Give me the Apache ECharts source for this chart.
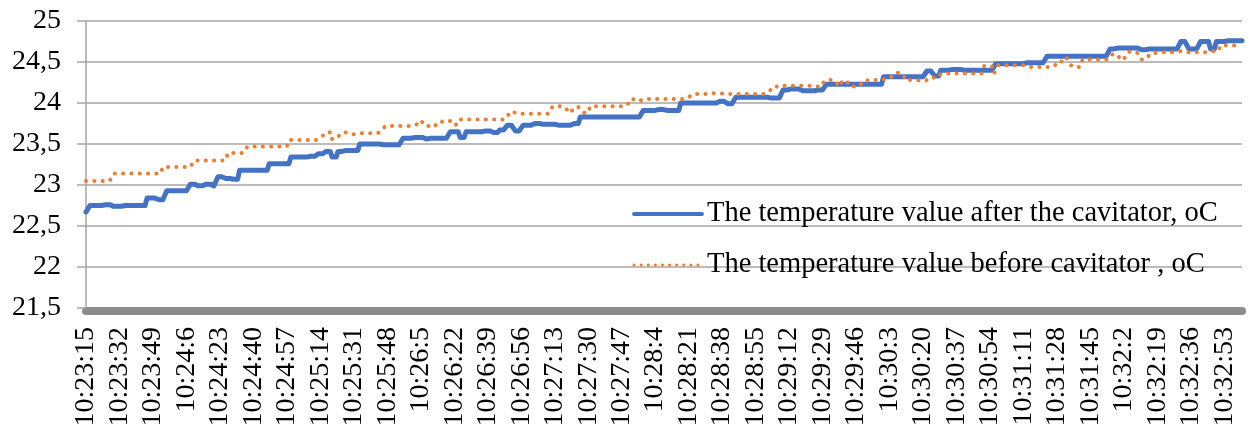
<!DOCTYPE html>
<html><head><meta charset="utf-8">
<script src="https://cdn.jsdelivr.net/npm/echarts@6/dist/echarts.min.js"></script>
<style>html,body{margin:0;padding:0;background:#fff}#c{width:1250px;height:430px}</style>
</head><body><div id="c"></div>
<script>
// time axis: one reading per second starting at 10:23:15
const startHour = 10, startMinute = 23, startSecond = 15;
const pointCount = 588;
const labelEvery = 17;

// "after the cavitator" readings, run-length: index where a level starts, and its value
const afterStart = [0,2,9,14,19,31,37,41,53,57,61,64,67,71,74,78,93,104,113,118,122,125,128,132,139,150,161,167,172,174,185,190,193,203,207,210,214,218,222,228,232,240,247,251,283,290,295,302,322,326,330,348,354,358,363,371,376,405,427,431,434,440,446,462,477,488,520,524,535,539,556,560,566,571,574,580];
const afterValue = [22.67,22.75,22.76,22.74,22.75,22.84,22.82,22.93,23.01,22.99,23.01,22.99,23.10,23.08,23.07,23.18,23.26,23.34,23.35,23.38,23.41,23.34,23.41,23.42,23.50,23.49,23.57,23.58,23.56,23.57,23.65,23.58,23.65,23.66,23.64,23.67,23.73,23.66,23.73,23.75,23.74,23.73,23.75,23.83,23.91,23.92,23.91,24.00,24.02,23.99,24.07,24.06,24.16,24.17,24.15,24.16,24.23,24.32,24.39,24.33,24.40,24.41,24.40,24.48,24.49,24.57,24.66,24.67,24.65,24.66,24.75,24.66,24.75,24.66,24.75,24.76];

// "before cavitator" readings, run-length
const beforeStart = [0,14,39,55,72,82,103,119,121,124,125,128,130,134,137,150,152,167,170,172,176,178,181,188,190,213,215,219,237,243,246,248,251,253,256,275,278,282,285,306,308,318,324,345,348,351,371,374,377,380,382,384,386,388,394,397,405,409,411,414,416,424,428,431,434,456,461,463,478,493,496,499,501,506,520,525,528,530,534,536,539,541,545,555,559,570,576];
const beforeValue = [23.05,23.14,23.22,23.30,23.39,23.47,23.55,23.57,23.62,23.65,23.56,23.59,23.64,23.62,23.63,23.66,23.72,23.74,23.79,23.72,23.70,23.74,23.78,23.73,23.80,23.82,23.89,23.87,23.96,23.92,23.88,23.95,23.91,23.88,23.96,23.99,24.05,24.03,24.05,24.07,24.11,24.12,24.11,24.12,24.17,24.21,24.20,24.25,24.28,24.26,24.20,24.26,24.28,24.20,24.24,24.28,24.29,24.32,24.37,24.35,24.28,24.27,24.29,24.34,24.36,24.45,24.36,24.46,24.44,24.48,24.55,24.49,24.44,24.53,24.59,24.53,24.59,24.63,24.61,24.53,24.56,24.61,24.62,24.63,24.62,24.63,24.70];

const seriesNames = ['The temperature value after the cavitator, oC', 'The temperature value before cavitator , oC'];
const yMin = 21.5, yMax = 25, yStep = 0.5;

function expand(starts, values, n) {
  const out = [];
  let k = 0;
  for (let i = 0; i < n; i++) {
    while (k + 1 < starts.length && starts[k + 1] <= i) k++;
    out.push(values[k]);
  }
  return out;
}
const categories = [];
for (let i = 0; i < pointCount; i++) {
  const t = startHour * 3600 + startMinute * 60 + startSecond + i;
  const h = Math.floor(t / 3600), m = Math.floor((t % 3600) / 60), s = t % 60;
  categories.push(h + ':' + (m < 10 ? '0' + m : m) + ':' + s);
}
const afterData = expand(afterStart, afterValue, pointCount);
const beforeData = expand(beforeStart, beforeValue, pointCount);

const FONT = "'Liberation Serif','Times New Roman',serif";
const chart = echarts.init(document.getElementById('c'), null, {renderer: 'canvas'});
chart.setOption({
  animation: false,
  backgroundColor: '#fff',
  grid: {left: 86, right: 8, top: 21, bottom: 122, containLabel: false},
  legend: {
    orient: 'vertical', left: 627, top: 194,
    itemWidth: 68, itemHeight: 14, itemGap: 21,
    itemStyle: {opacity: 0},
    textStyle: {fontFamily: FONT, fontSize: 28.5, color: '#000', lineHeight: 30},
    data: [
      {name: seriesNames[0], lineStyle: {color: '#4472C4', width: 4, type: 'solid'}},
      {name: seriesNames[1], lineStyle: {color: '#ED7D31', width: 3, type: [0.1, 7], cap: 'round'}}
    ]
  },
  xAxis: {
    type: 'category', data: categories, boundaryGap: false, offset: 3,
    axisLine: {show: true, lineStyle: {color: '#8c8c8c', width: 8}},
    axisTick: {show: false},
    axisLabel: {interval: labelEvery - 1, rotate: 90, margin: 16, fontFamily: FONT, fontSize: 28, color: '#000'},
    splitLine: {show: false}
  },
  yAxis: {
    type: 'value', min: yMin, max: yMax, interval: yStep,
    axisLine: {show: true, lineStyle: {color: '#a6a6a6', width: 1.5}},
    axisTick: {show: true, length: 9, lineStyle: {color: '#a6a6a6', width: 1.5}},
    axisLabel: {margin: 25, fontFamily: FONT, fontSize: 28, color: '#000',
      formatter: v => String(v).replace('.', ',')},
    splitLine: {show: true, lineStyle: {color: '#a6a6a6', width: 1.5}}
  },
  series: [
    {name: seriesNames[0], type: 'line', data: afterData, symbol: 'none', showSymbol: false,
     color: '#4472C4', lineStyle: {color: '#4472C4', width: 5, join: 'round', cap: 'round'}, z: 3},
    {name: seriesNames[1], type: 'line', data: beforeData, symbol: 'none', showSymbol: false,
     color: '#ED7D31', lineStyle: {color: '#ED7D31', width: 4, type: [0.1, 8.2], cap: 'round'}, z: 4}
  ]
});
</script></body></html>
